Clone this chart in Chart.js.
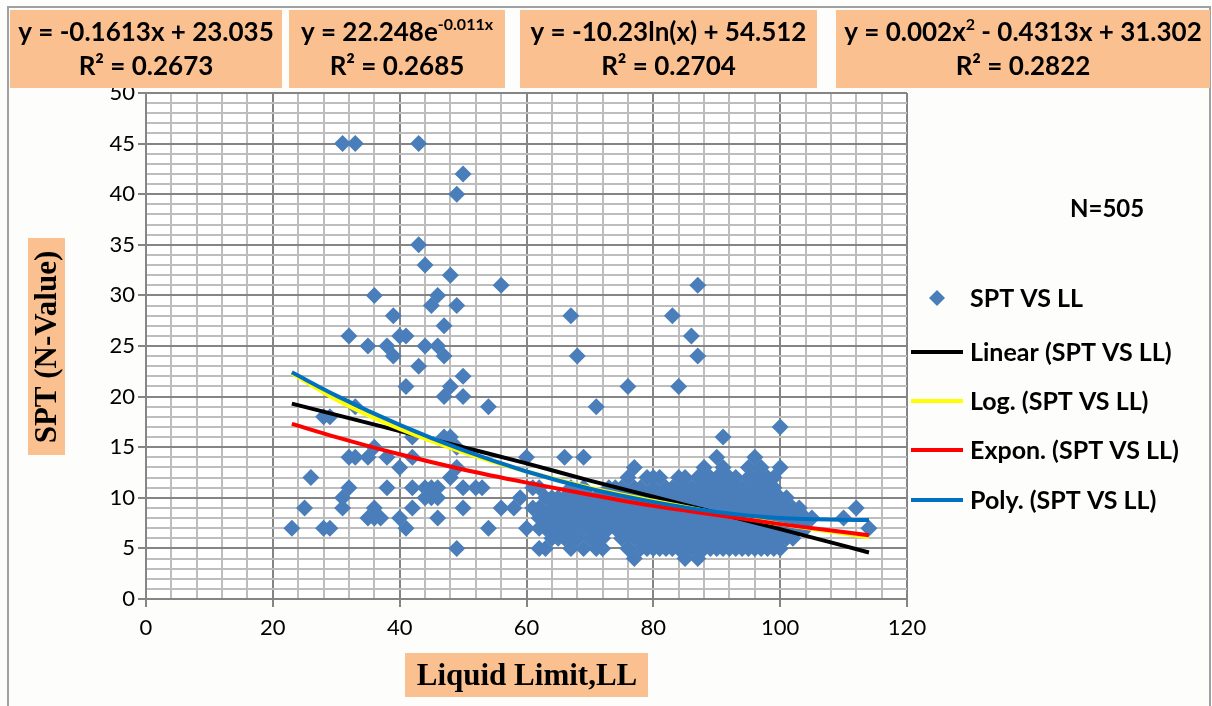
<!DOCTYPE html>
<html>
<head>
<meta charset="utf-8">
<script src="https://cdn.jsdelivr.net/npm/chart.js@4.4.0/dist/chart.umd.min.js"></script>
<style>
  html, body { margin: 0; padding: 0; background: #fdfdfb; }
</style>
</head>
<body>
<canvas id="sptChart" width="1212" height="706"></canvas>
<script>
// ---------- Data ----------
// scattered points outside the dense block, [LL, SPT]
const loosePoints = [
  [23, 7], [25, 9], [26, 12], [28, 7], [29, 7], [28, 18], [29, 18],
  [31, 10], [31, 9], [32, 11], [32, 26], [31, 45], [33, 45], [33, 19], [32, 14], [33, 14],
  [35, 25], [35, 14], [36, 15], [35, 8], [36, 8], [36, 9], [36, 30],
  [37, 8], [38, 14], [38, 11], [38, 25], [39, 24], [39, 28],
  [40, 26], [41, 26], [40, 13], [40, 8], [41, 7], [41, 21],
  [42, 16], [42, 14], [42, 11], [42, 9],
  [43, 23], [43, 45], [43, 35],
  [44, 33], [44, 25], [44, 11], [44, 10],
  [45, 29], [45, 11], [45, 10],
  [46, 30], [46, 25], [46, 11], [46, 10], [46, 8],
  [47, 27], [47, 24], [47, 20], [47, 16],
  [48, 16], [48, 32], [48, 21], [48, 12],
  [49, 40], [49, 29], [49, 15], [49, 13], [49, 5],
  [50, 42], [50, 22], [50, 20], [50, 11], [50, 9],
  [52, 11], [53, 11], [54, 19], [54, 7],
  [56, 31], [56, 9], [58, 9], [59, 10], [60, 14], [60, 7],
  [66, 14], [69, 14], [71, 19], [67, 28], [68, 24], [76, 21], [84, 21],
  [83, 28], [86, 26], [87, 31], [87, 24], [91, 16], [100, 17],
  [110, 8], [112, 9], [114, 7]
];

// dense block: one LL value and the SPT values read at it
const clusterLL = [
  61, 62, 63, 64, 65, 66, 67, 68, 69, 70, 71, 72, 73, 74, 75, 76, 77, 78, 79, 80, 81, 82, 83,
  84, 85, 86, 87, 88, 89, 90, 91, 92, 93, 94, 95, 96, 97, 98, 99, 100, 101, 102, 103, 104, 105
];
const clusterSPT = [
  [9, 11], [5, 7, 8, 9, 11], [5, 7, 8, 10], [6, 7, 8, 9, 10], [6, 7, 8, 9, 10], [6, 7, 8, 9, 10],
  [5, 6, 7, 8, 9, 10, 11], [6, 7, 8, 9, 10], [5, 7, 8, 9, 10, 11], [6, 7, 8, 9, 10],
  [5, 6, 7, 8, 9, 10], [5, 6, 7, 8, 9, 10], [7, 8, 9, 10, 11], [7, 8, 9, 10, 11],
  [6, 7, 8, 9, 10, 11], [5, 6, 7, 8, 9, 10, 12],
  [4, 6, 7, 8, 9, 10, 11, 13], [5, 6, 7, 8, 9, 10, 11], [5, 6, 7, 8, 9, 10, 12],
  [5, 6, 7, 8, 9, 10, 11, 12], [5, 6, 7, 8, 9, 10, 12], [5, 6, 7, 8, 9, 10, 11],
  [5, 6, 7, 8, 9, 10, 11], [5, 6, 7, 8, 9, 10, 11, 12], [4, 5, 6, 7, 8, 9, 10, 11, 12],
  [5, 6, 7, 8, 9, 10, 11], [4, 5, 6, 7, 8, 9, 10, 11, 12], [5, 6, 7, 8, 9, 10, 11, 12, 13],
  [5, 6, 7, 8, 9, 10, 11, 12], [5, 6, 7, 8, 9, 10, 11, 12, 14], [5, 6, 7, 8, 9, 10, 11, 12, 13],
  [5, 6, 7, 8, 9, 10, 11, 12], [5, 6, 7, 8, 9, 10, 11, 12], [5, 6, 7, 8, 9, 10, 11],
  [5, 6, 7, 8, 9, 10, 11, 12, 13], [5, 6, 7, 8, 9, 10, 11, 12, 14], [5, 6, 7, 8, 9, 10, 11, 12, 13],
  [5, 6, 7, 8, 9, 10, 11, 12], [5, 6, 7, 8, 9, 10, 11, 12], [5, 6, 7, 8, 9, 10, 13],
  [6, 7, 8, 9, 10], [6, 7, 8, 9], [7, 8, 9], [7, 8], [8]
];

// trend lines
const trendLL   = [23, 30, 40, 50, 60, 70, 80, 90, 100, 114];
const linearFit = [19.3, 18.2, 16.6, 15.0, 13.4, 11.7, 10.1, 8.5, 6.9, 4.6];
const logFit    = [22.3, 19.7, 16.8, 14.5, 12.6, 11.0, 9.7, 8.5, 7.4, 6.1];
const expFit    = [17.3, 16.0, 14.3, 12.8, 11.5, 10.3, 9.2, 8.3, 7.4, 6.3];
const polyFit   = [22.4, 20.1, 17.2, 14.7, 12.6, 10.9, 9.6, 8.6, 8.0, 7.8];

const seriesNames = ["SPT VS LL", "Linear (SPT VS LL)", "Log. (SPT VS LL)", "Expon. (SPT VS LL)", "Poly. (SPT VS LL)"];
const seriesColors = ["#4A7EBB", "#000000", "#FFFF00", "#FF0000", "#0070C0"];

// equation labels: [text, superscript?]
const equationParts = [
  [["y = -0.1613x + 23.035", 0]],
  [["y = 22.248e", 0], ["-0.011x", 1]],
  [["y = -10.23ln(x) + 54.512", 0]],
  [["y = 0.002x", 0], ["2", 1], [" - 0.4313x + 31.302", 0]]
];
const rSquared = ["0.2673", "0.2685", "0.2704", "0.2822"];
const sampleCount = "N=505";
const xTitle = "Liquid Limit,LL";
const yTitle = "SPT (N-Value)";

// ---------- Build datasets ----------
const scatterData = loosePoints.map((p) => ({ x: p[0], y: p[1] }));
clusterLL.forEach((ll, i) => {
  clusterSPT[i].forEach((spt) => scatterData.push({ x: ll, y: spt }));
});

const toXY = (vals) => trendLL.map((x, i) => ({ x: x, y: vals[i] }));
const fits = [linearFit, logFit, expFit, polyFit];

const datasets = [
  {
    label: seriesNames[0],
    data: scatterData,
    pointStyle: "rectRot",
    pointRadius: 8.5,
    pointBackgroundColor: seriesColors[0],
    pointBorderWidth: 0,
    showLine: false,
    order: 10,
  },
];
fits.forEach((vals, i) => {
  datasets.push({
    label: seriesNames[i + 1],
    data: toXY(vals),
    showLine: true,
    borderColor: seriesColors[i + 1],
    borderWidth: 4,
    pointRadius: 0,
    cubicInterpolationMode: "monotone",
    order: 4 - i,
  });
});

const orange = "#FAC090";
const sansBold = (s) => "bold " + s + "px Lato";
const serifBold = (s) => "bold " + s + "px 'Liberation Serif'";

// draws text pieces with superscripts, centred on cx
function drawParts(ctx, parts, cx, cy, size) {
  let total = 0;
  parts.forEach(([t, sup]) => {
    ctx.font = sansBold(sup ? Math.round(size * 0.62) : size);
    total += ctx.measureText(t).width;
  });
  let x = cx - total / 2;
  ctx.textAlign = "left";
  ctx.textBaseline = "middle";
  parts.forEach(([t, sup]) => {
    ctx.font = sansBold(sup ? Math.round(size * 0.62) : size);
    ctx.fillText(t, x, sup ? cy - size * 0.32 : cy);
    x += ctx.measureText(t).width;
  });
}

const decorations = {
  id: "decorations",
  beforeDraw(chart) {
    const { ctx, chartArea: a } = chart;
    ctx.save();
    ctx.fillStyle = "#fdfdfb";
    ctx.fillRect(0, 0, chart.width, chart.height);
    ctx.fillStyle = "#ffffff";
    ctx.fillRect(a.left, a.top, a.right - a.left, a.bottom - a.top);
    ctx.restore();
  },
  afterDraw(chart) {
    const ctx = chart.ctx;
    ctx.save();

    // outer frame
    ctx.strokeStyle = "#a0a0a0";
    ctx.lineWidth = 2;
    ctx.strokeRect(8, 7, 1202, 704);

    // equation boxes
    const boxes = [[10, 282], [289, 505], [520, 817], [836, 1210]];
    boxes.forEach((b, i) => {
      ctx.fillStyle = orange;
      ctx.fillRect(b[0], 10, b[1] - b[0], 78);
      ctx.fillStyle = "#000";
      const cx = (b[0] + b[1]) / 2;
      drawParts(ctx, equationParts[i], cx, 33, 26);
      drawParts(ctx, [["R\u00B2 = " + rSquared[i], 0]], cx, 67, 26);
    });

    // axis titles
    ctx.fillStyle = orange;
    ctx.fillRect(28, 238, 37, 217);
    ctx.fillRect(405, 653, 243, 44);
    ctx.fillStyle = "#000";
    ctx.font = serifBold(31);
    ctx.textAlign = "center";
    ctx.textBaseline = "middle";
    ctx.fillText(xTitle, 527, 677);
    ctx.save();
    ctx.translate(48, 347);
    ctx.rotate(-Math.PI / 2);
    ctx.fillText(yTitle, 0, 0);
    ctx.restore();

    // N label
    ctx.font = sansBold(24);
    ctx.textAlign = "left";
    ctx.fillText(sampleCount, 1070, 209);

    // legend
    const rows = [298, 352, 401, 450, 500];
    chart.data.datasets.forEach((ds, i) => {
      const y = rows[i];
      if (i === 0) {
        ctx.fillStyle = seriesColors[0];
        ctx.beginPath();
        ctx.moveTo(937, y - 8);
        ctx.lineTo(945, y);
        ctx.lineTo(937, y + 8);
        ctx.lineTo(929, y);
        ctx.closePath();
        ctx.fill();
      } else {
        ctx.strokeStyle = ds.borderColor;
        ctx.lineWidth = 4;
        ctx.beginPath();
        ctx.moveTo(911, y);
        ctx.lineTo(963, y);
        ctx.stroke();
      }
      ctx.fillStyle = "#000";
      ctx.font = sansBold(25);
      ctx.textAlign = "left";
      ctx.textBaseline = "middle";
      ctx.fillText(ds.label, 970, y + 1);
    });
    ctx.restore();
  },
};

const majorGrid = "#858585";
const minorGrid = "#bdbdbd";

new Chart(document.getElementById("sptChart"), {
  type: "scatter",
  data: { datasets: datasets },
  options: {
    responsive: false,
    animation: false,
    layout: { padding: { left: 100, top: 93, right: 305, bottom: 67 } },
    plugins: { legend: { display: false }, tooltip: { enabled: false } },
    scales: {
      x: {
        type: "linear",
        min: 0,
        max: 120,
        afterFit: (s) => { s.height = 40; },
        ticks: {
          stepSize: 4,
          maxTicksLimit: 100,
          autoSkip: false,
          maxRotation: 0,
          minRotation: 0,
          padding: 8,
          color: "#000",
          font: { family: "Lato", size: 22 },
          callback: (v) => (v % 20 === 0 ? v : ""),
        },
        grid: {
          lineWidth: 2,
          tickLength: 8,
          color: (c) => (c.tick && c.tick.value % 20 === 0 ? majorGrid : minorGrid),
          tickColor: (c) => (c.tick && c.tick.value % 20 === 0 ? majorGrid : "rgba(0,0,0,0)"),
        },
        border: { color: majorGrid, width: 2 },
      },
      y: {
        min: 0,
        max: 50,
        afterFit: (s) => { s.width = 46; },
        ticks: {
          stepSize: 1,
          maxTicksLimit: 100,
          autoSkip: false,
          padding: 3,
          color: "#000",
          font: { family: "Lato", size: 22 },
          callback: (v) => (v % 5 === 0 ? v : ""),
        },
        grid: {
          lineWidth: 2,
          tickLength: 8,
          color: (c) => (c.tick && c.tick.value % 5 === 0 ? majorGrid : minorGrid),
          tickColor: (c) => (c.tick && c.tick.value % 5 === 0 ? majorGrid : "rgba(0,0,0,0)"),
        },
        border: { color: majorGrid, width: 2 },
      },
    },
  },
  plugins: [decorations],
});
</script>
</body>
</html>
